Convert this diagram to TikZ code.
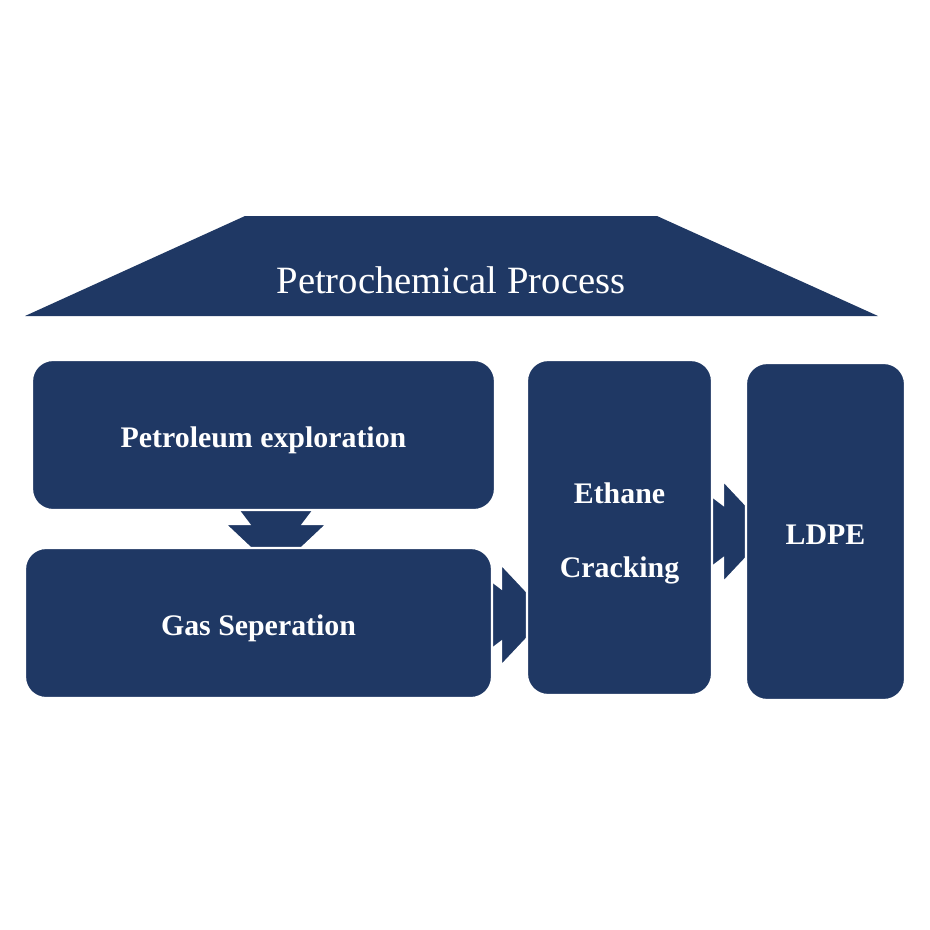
\documentclass[tikz,border=0pt]{standalone}
\usepackage{fontspec}
\setmainfont{Liberation Serif}
\usepackage{xcolor}
\usepackage{tikz}
\usetikzlibrary{calc,backgrounds}
\definecolor{boxblue}{RGB}{31, 56, 100}

\begin{document}
\begin{tikzpicture}[x=0.02cm, y=-0.02cm]
  \tikzset{
    procbox/.style={fill=boxblue, draw=white, line width=1.2pt, rounded corners=0.42cm,
      text=white, font=\bfseries\fontsize{17}{20}\selectfont, align=center, inner sep=0pt},
    flowarrow/.style={fill=boxblue, draw=white, line width=1.2pt, line join=miter}
  }
  \useasboundingbox (0,0) rectangle (930,930);
  % Roof
  \fill[boxblue] (245,216) -- (657,216) -- (878,316) -- (25,316) -- cycle;
  \node[text=white, font=\fontsize{22}{26}\selectfont] (title) at (451,280) {Petrochemical Process};
  % Process boxes
  \node[procbox, minimum width=9.26cm, minimum height=3cm] (petro) at (263.5,435)
    {\raisebox{-0.1cm}[\height][\depth]{Petroleum exploration}};
  \node[procbox, minimum width=9.34cm, minimum height=3cm] (gas) at (258.5,623)
    {\raisebox{-0.1cm}[\height][\depth]{Gas Seperation}};
  \node[procbox, minimum width=3.7cm, minimum height=6.7cm] (eth) at (619.5,527.5)
    {\raisebox{-0.12cm}[\height][\depth]{\begin{tabular}{@{}c@{}}Ethane\\[22pt]Cracking\end{tabular}}};
  \node[procbox, minimum width=3.18cm, minimum height=6.74cm] (ldpe) at (825.5,531.5)
    {\raisebox{-0.06cm}[\height][\depth]{LDPE}};
  % Arrow heads between boxes
  \coordinate (p2g) at ($(petro.south)+(12.5,13)$);
  \coordinate (g2e) at ($(gas.east)+(8,-8)$);
  \coordinate (e2l) at ($(eth.east)+(10,4)$);
  \begin{scope}[on background layer]
    \foreach \c/\ang in {p2g/-90, g2e/0, e2l/0}
      \draw[flowarrow, shift={(\c)}, rotate=\ang] (-25,-46) -- (0,-27) -- (0,-51) -- (48,0)
        -- (0,51) -- (0,27) -- (-25,46) -- cycle;
  \end{scope}
\end{tikzpicture}
\end{document}
